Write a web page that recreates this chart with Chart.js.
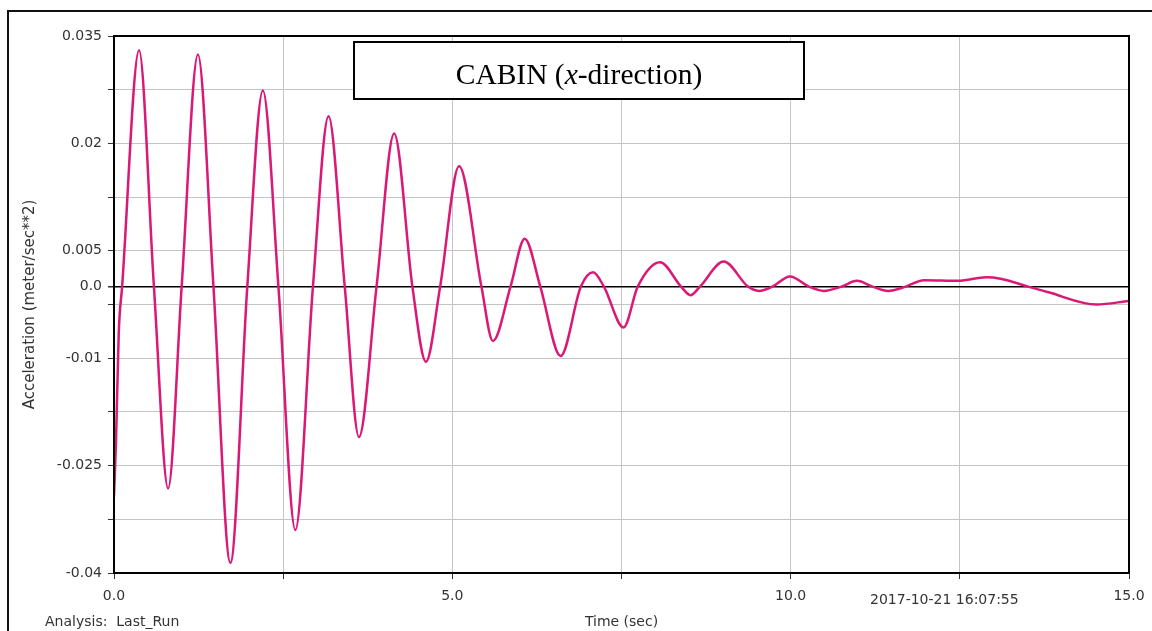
<!DOCTYPE html>
<html><head><meta charset="utf-8">
<script src="https://cdn.jsdelivr.net/npm/chart.js@4.4.1/dist/chart.umd.min.js"></script>
<style>html,body{margin:0;padding:0;background:#fff;overflow:hidden}#wrap{width:1152px;height:631px;position:relative}</style>
</head><body><div id="wrap"><canvas id="c" width="1152" height="631"></canvas></div>
<script>
// ---- data ----
const timeSec = [0, 0.03, 0.07, 0.12, 0.37, 0.59, 0.80, 1.00, 1.24, 1.47, 1.72, 1.97, 2.20, 2.43, 2.68, 2.94, 3.17, 3.41, 3.62, 3.88,
  4.14, 4.41, 4.61, 4.82, 5.10, 5.43, 5.60, 5.86, 6.07, 6.30, 6.60, 6.90, 7.08, 7.24, 7.53, 7.74, 8.07, 8.38, 8.52, 8.66,
  9.01, 9.37, 9.53, 9.73, 9.99, 10.27, 10.49, 10.75, 10.98, 11.21, 11.44, 11.70, 11.97, 12.48, 12.89, 13.10, 13.51, 13.81, 14.52, 15.0];
const accel = [-0.0293, -0.0215, -0.0065, 0, 0.0330, 0, -0.0282, 0, 0.0324, 0, -0.0386, 0, 0.0274, 0, -0.0340, 0, 0.0238, 0, -0.0210, 0,
  0.0214, 0, -0.0105, 0, 0.0168, 0, -0.0076, 0, 0.0067, 0, -0.0097, 0, 0.0020, 0, -0.0057, 0, 0.0034, 0, -0.0012, 0,
  0.0035, 0, -0.0006, 0, 0.0014, 0, -0.0006, 0, 0.0008, 0, -0.0006, 0, 0.0009, 0.0008, 0.0013, 0.0011, 0, -0.0008, -0.0025, -0.0020];
const xTickValues = [0, 2.5, 5, 7.5, 10, 12.5, 15];
const xTickLabels = ['0.0', '', '5.0', '', '10.0', '', '15.0'];
const yTickValues = [-0.04, -0.0325, -0.025, -0.0175, -0.01, -0.0025, 0, 0.005, 0.0125, 0.02, 0.0275, 0.035];
const yTickLabels = ['-0.04', '', '-0.025', '', '-0.01', '', '0.0', '0.005', '', '0.02', '', '0.035'];
const titleParts = ['CABIN (', 'x', '-direction)'];
const xTitle = 'Time (sec)';
const yTitle = 'Acceleration (meter/sec**2)';
const analysisText = 'Analysis:  Last_Run';
const stampText = '2017-10-21 16:07:55';

const points = timeSec.map((t, i) => ({x: t, y: accel[i]}));
const SANS = '"DejaVu Sans", sans-serif';
const TXT = '#333';

const extras = {
  id: 'extras',
  afterDraw(chart) {
    const ctx = chart.ctx, a = chart.chartArea;
    ctx.save();
    // plot frame (top/right)
    ctx.strokeStyle = '#000'; ctx.lineWidth = 2;
    ctx.strokeRect(a.left, a.top, a.right - a.left, a.bottom - a.top);
    // outer frame
    ctx.strokeStyle = '#111';
    ctx.beginPath(); ctx.moveTo(8, 631); ctx.lineTo(8, 11); ctx.lineTo(1152, 11); ctx.stroke();
    // title box
    const bx = 354, by = 42, bw = 450, bh = 57;
    ctx.fillStyle = '#fff'; ctx.fillRect(bx, by, bw, bh);
    ctx.strokeStyle = '#000'; ctx.lineWidth = 2; ctx.strokeRect(bx, by, bw, bh);
    const fN = '29.5px "Liberation Serif", "Times New Roman", serif';
    const fI = 'italic 29.5px "Liberation Serif", "Times New Roman", serif';
    const fonts = [fN, fI, fN];
    let widths = titleParts.map((p, i) => { ctx.font = fonts[i]; return ctx.measureText(p).width; });
    let total = widths.reduce((s, w) => s + w, 0);
    let x = bx + bw / 2 - total / 2;
    ctx.fillStyle = '#000'; ctx.textBaseline = 'alphabetic'; ctx.textAlign = 'left';
    titleParts.forEach((p, i) => { ctx.font = fonts[i]; ctx.fillText(p, x, 84); x += widths[i]; });
    // footer texts
    ctx.font = '14px ' + SANS; ctx.fillStyle = TXT; ctx.textBaseline = 'middle';
    ctx.fillText(analysisText, 45, 622);
    ctx.fillText(stampText, 870, 600);
    ctx.restore();
  }
};

new Chart(document.getElementById('c'), {
  type: 'line',
  data: { datasets: [{ data: points, borderColor: '#db1876', borderWidth: 2.5, pointRadius: 0, fill: false,
    cubicInterpolationMode: 'monotone' }] },
  options: {
    responsive: false, animation: false, devicePixelRatio: 1,
    layout: { padding: { left: 0, top: 36, right: 23, bottom: 0 } },
    plugins: { legend: { display: false }, tooltip: { enabled: false } },
    scales: {
      x: {
        type: 'linear', min: 0, max: 15,
        afterBuildTicks: s => { s.ticks = xTickValues.map(v => ({ value: v })); },
        afterFit: s => { s.height = 58; s.paddingLeft = 0; s.paddingRight = 0; },
        ticks: { autoSkip: false, maxRotation: 0, color: TXT, font: { family: SANS, size: 14 }, padding: 9,
          callback: v => xTickLabels[xTickValues.indexOf(v)] },
        grid: { color: '#c4c4c4', lineWidth: 1, tickLength: 6, tickColor: '#333' },
        border: { color: '#000', width: 2 },
        title: { display: true, text: xTitle, color: TXT, font: { family: SANS, size: 14 }, padding: { top: 0, bottom: 0 } }
      },
      y: {
        type: 'linear', min: -0.04, max: 0.035,
        afterBuildTicks: s => { s.ticks = yTickValues.map(v => ({ value: v })); },
        afterFit: s => { s.width = 114; s.paddingTop = 0; s.paddingBottom = 0; },
        ticks: { autoSkip: false, color: TXT, font: { family: SANS, size: 14 }, padding: 6,
          callback: v => yTickLabels[yTickValues.indexOf(v)] },
        grid: { color: c => (c.tick && c.tick.value === 0) ? '#000' : '#c4c4c4',
                lineWidth: c => (c.tick && c.tick.value === 0) ? 1.5 : 1, tickLength: 6, tickColor: '#333' },
        border: { color: '#000', width: 2 },
        title: { display: true, text: yTitle, color: TXT, font: { family: SANS, size: 15 }, padding: { top: 21, bottom: 0 } }
      }
    }
  },
  plugins: [extras]
});
</script></body></html>
